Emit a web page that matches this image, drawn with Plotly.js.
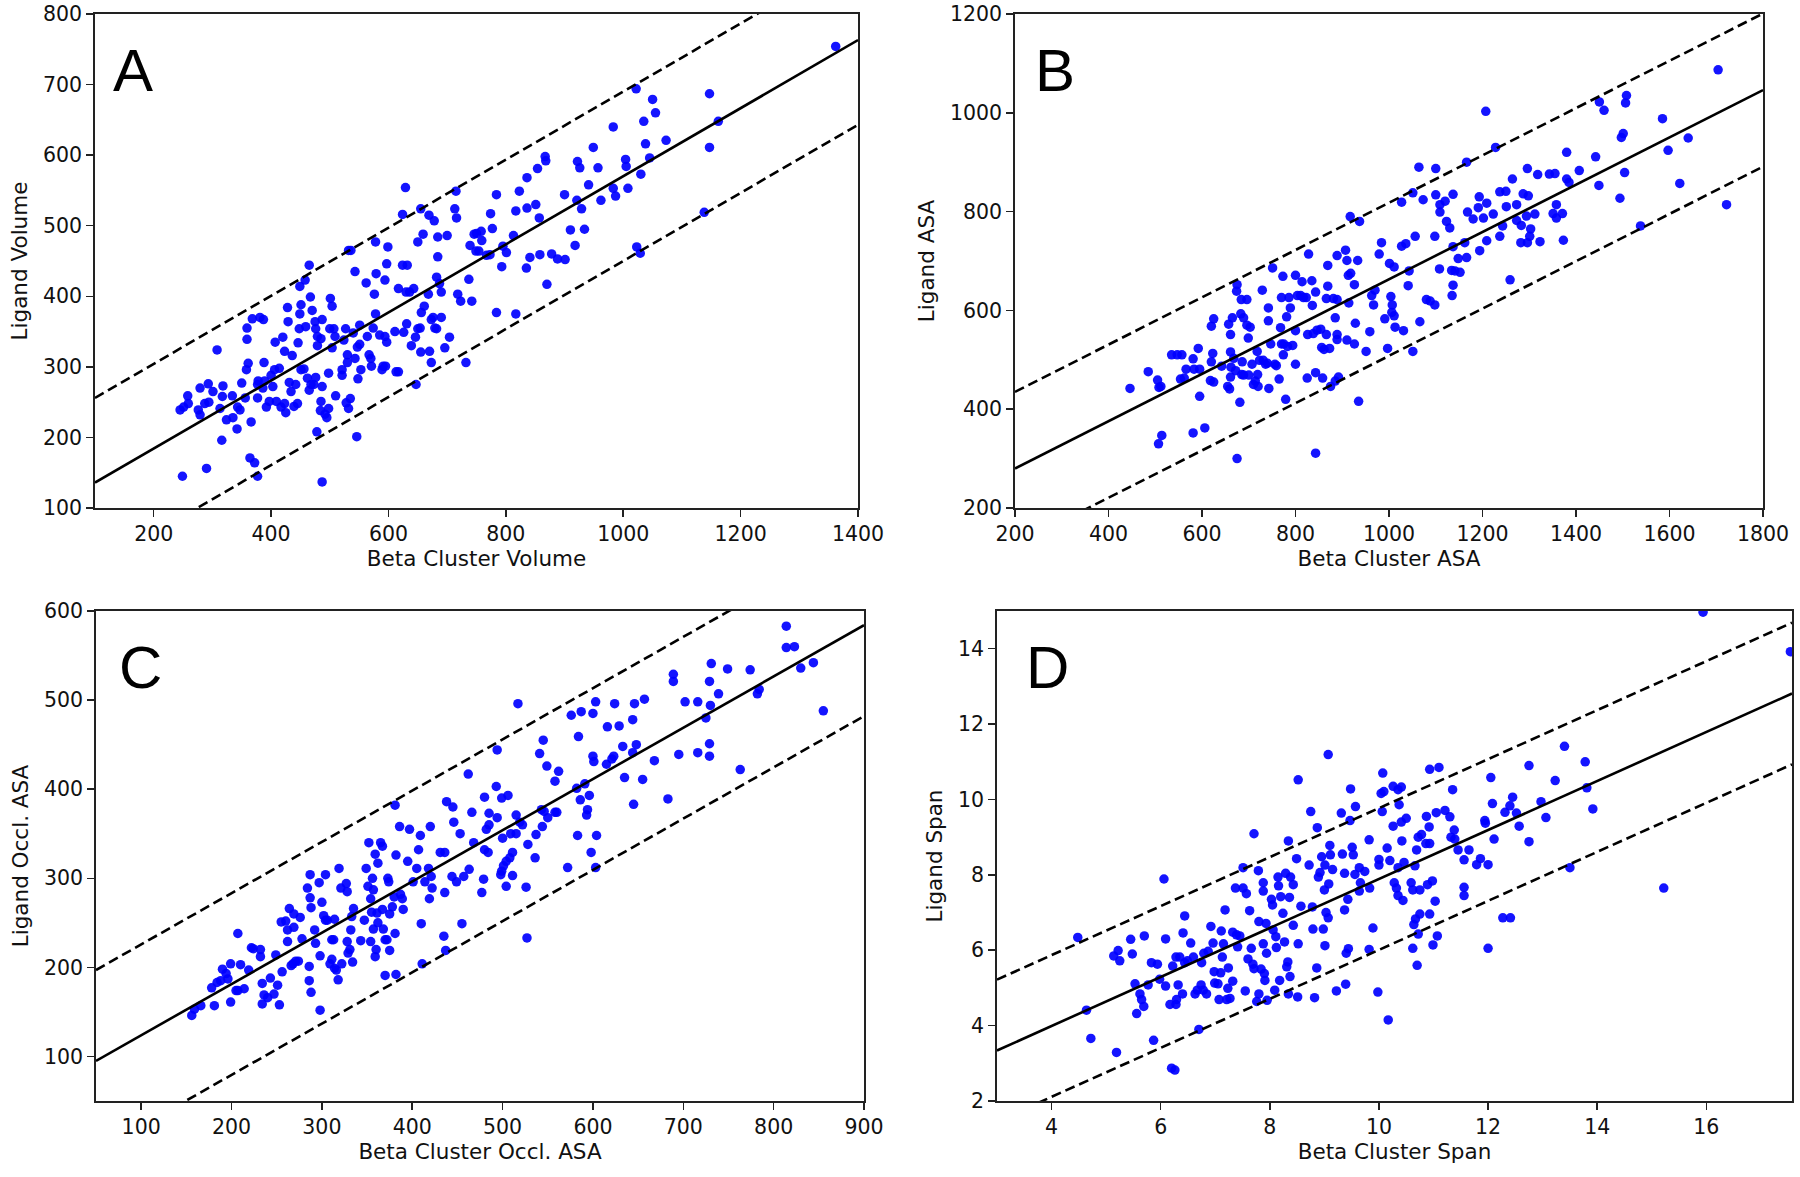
<!DOCTYPE html>
<html>
<head>
<meta charset="utf-8">
<script src="https://cdn.plot.ly/plotly-3.0.1.min.js"></script>
<style>html,body{margin:0;padding:0;background:#fff;}#chart{width:1800px;height:1177px;}</style>
</head>
<body>
<div id="chart"></div>
<script>
// ---------- Panel A : Beta Cluster Volume vs Ligand Volume ----------
const pointsA = [[249,145],[290,156],[487,137],[377,145],[372,164],[364,171],[245,239],[251,243],[258,259],[259,248],[276,239],[279,232],[279,270],[293,276],[301,265],[287,248],[294,250],[308,324],[316,196],[313,241],[317,258],[318,273],[324,225],[334,259],[335,228],[342,212],[343,243],[347,239],[350,277],[356,256],[366,222],[359,355],[359,339],[368,368],[381,370],[387,367],[361,305],[358,296],[377,275],[377,256],[378,280],[389,280],[388,306],[386,270],[392,243],[397,251],[400,288],[403,272],[406,296],[409,251],[414,298],[417,243],[423,248],[425,235],[407,335],[420,342],[423,322],[428,384],[429,364],[431,278],[434,265],[436,316],[439,244],[445,248],[442,275],[446,334],[448,354],[449,375],[451,388],[449,414],[458,423],[465,444],[451,296],[456,297],[459,357],[462,284],[465,267],[468,275],[473,275],[476,285],[467,399],[470,380],[475,364],[476,354],[479,343],[479,330],[485,340],[487,367],[478,208],[485,251],[484,238],[487,272],[492,233],[495,228],[498,241],[498,291],[500,354],[504,386],[501,397],[507,354],[509,343],[504,327],[510,259],[521,288],[521,296],[524,338],[527,354],[530,317],[530,306],[528,249],[532,241],[535,255],[532,465],[536,465],[543,435],[546,201],[540,348],[543,312],[547,328],[548,283],[551,359],[553,296],[551,332],[562,419],[564,343],[567,317],[570,312],[571,301],[578,477],[579,432],[576,403],[578,375],[574,355],[585,345],[589,296],[591,301],[594,343],[595,301],[597,335],[594,423],[597,446],[599,470],[611,350],[613,293],[617,293],[617,411],[624,444],[624,516],[629,554],[632,444],[626,349],[631,361],[630,406],[636,406],[639,330],[643,411],[646,342],[650,354],[654,355],[647,275],[650,477],[656,377],[655,321],[661,386],[659,488],[655,524],[668,403],[673,367],[670,322],[673,306],[676,370],[679,355],[682,354],[669,515],[678,507],[684,456],[684,484],[682,427],[687,418],[690,406],[690,370],[696,327],[704,342],[700,486],[713,524],[715,549],[716,511],[718,403],[723,393],[732,306],[737,424],[739,472],[746,488],[749,464],[750,489],[758,492],[759,479],[754,464],[767,458],[773,459],[774,517],[777,496],[784,544],[793,442],[795,471],[801,462],[813,486],[817,521],[823,549],[835,440],[836,525],[836,568],[841,455],[851,530],[854,581],[857,511],[858,459],[867,598],[868,592],[870,417],[878,460],[888,453],[900,544],[901,452],[910,494],[918,472],[921,536],[922,591],[926,582],[929,524],[934,495],[941,558],[949,611],[957,582],[962,536],[983,640],[983,553],[987,542],[1004,594],[1005,584],[1008,553],[1022,694],[1023,470],[1029,461],[1030,573],[1035,648],[1038,616],[1045,596],[1050,679],[1055,660],[1073,621],[1138,519],[1147,687],[1147,611],[1162,648],[1362,754],[784,377],[817,375],[742,393]];
const fitA_x = [100, 1400];
const fitA_mid = [136, 763];
const fitA_up = [256, 883];
const fitA_lo = [16, 643];

// ---------- Panel B : Beta Cluster ASA vs Ligand ASA ----------
const pointsB = [[446,442],[485,476],[505,459],[508,444],[512,446],[507,330],[514,347],[535,510],[547,510],[557,510],[554,461],[562,463],[566,481],[581,502],[583,481],[592,523],[595,481],[581,352],[606,362],[595,426],[618,458],[625,455],[620,496],[623,513],[620,568],[625,583],[642,487],[655,446],[659,441],[661,465],[661,516],[657,572],[661,551],[662,485],[665,585],[668,503],[672,478],[675,652],[674,639],[681,414],[685,470],[683,593],[684,622],[689,585],[696,622],[686,496],[689,469],[696,570],[700,469],[699,544],[703,566],[675,300],[707,491],[710,450],[714,457],[718,517],[720,446],[719,470],[723,499],[729,641],[731,499],[736,491],[740,493],[742,579],[742,605],[747,532],[743,442],[751,686],[756,491],[759,488],[765,461],[768,565],[770,626],[773,669],[770,532],[774,510],[775,532],[779,420],[781,587],[783,527],[786,626],[789,605],[794,529],[800,491],[800,559],[800,671],[804,630],[811,630],[814,658],[817,626],[823,626],[826,551],[828,714],[825,463],[835,660],[836,610],[838,553],[843,474],[843,637],[843,311],[846,560],[854,562],[856,525],[858,463],[861,521],[866,551],[866,624],[869,649],[869,691],[873,523],[875,446],[881,624],[885,457],[885,585],[889,711],[889,541],[889,551],[892,465],[889,622],[907,722],[910,540],[910,701],[913,671],[914,615],[917,790],[918,675],[926,652],[928,574],[926,532],[935,416],[937,780],[933,701],[951,517],[959,557],[967,611],[963,630],[970,641],[979,714],[984,737],[1001,695],[1011,688],[1004,628],[1007,611],[1006,596],[1011,589],[1013,566],[991,583],[997,523],[1031,559],[1051,517],[1066,577],[1041,650],[1043,680],[1027,730],[1036,735],[1056,750],[1073,824],[1051,838],[1027,819],[1064,890],[1100,887],[1100,834],[1109,799],[1109,814],[1120,821],[1137,835],[1123,780],[1130,767],[1098,750],[1108,684],[1080,622],[1098,611],[1088,619],[1134,681],[1137,651],[1135,630],[1141,680],[1152,677],[1148,705],[1166,707],[1162,737],[1137,729],[1166,900],[1168,799],[1180,785],[1193,830],[1191,808],[1202,787],[1209,817],[1223,795],[1207,1003],[1209,741],[1194,721],[1228,930],[1237,750],[1243,771],[1251,810],[1237,840],[1250,841],[1264,866],[1259,662],[1273,814],[1273,782],[1283,772],[1287,836],[1298,832],[1296,887],[1294,791],[1303,765],[1301,750],[1282,737],[1296,737],[1312,795],[1318,875],[1323,739],[1343,876],[1355,877],[1351,796],[1358,814],[1358,787],[1371,796],[1373,742],[1380,920],[1380,866],[1385,859],[1407,883],[1442,911],[1449,853],[1450,1022],[1460,1005],[1494,827],[1497,950],[1501,958],[1506,1020],[1508,1035],[1504,879],[1538,771],[1585,988],[1597,924],[1622,857],[1640,949],[1704,1087],[1722,814]];
const fitB_x = [200, 1800];
const fitB_mid = [280, 1046];
const fitB_up = [435, 1201];
const fitB_lo = [125, 891];

// ---------- Panel C : Beta Cluster Occl. ASA vs Ligand Occl. ASA ----------
const pointsC = [[156,146],[159,153],[166,157],[181,157],[178,177],[184,183],[188,185],[190,198],[194,193],[196,187],[199,204],[199,161],[205,174],[207,174],[207,238],[210,203],[214,176],[219,197],[222,222],[224,221],[232,220],[232,212],[234,182],[234,159],[236,169],[240,166],[243,188],[247,170],[249,214],[251,180],[253,158],[255,251],[256,195],[260,252],[262,229],[262,242],[264,266],[266,202],[268,204],[269,245],[269,260],[271,207],[274,207],[276,256],[278,232],[284,289],[287,304],[287,278],[288,267],[286,201],[286,185],[288,172],[292,242],[293,227],[297,295],[298,152],[298,213],[300,273],[302,258],[304,304],[304,253],[306,253],[309,204],[311,209],[311,231],[313,231],[314,254],[314,199],[316,197],[318,186],[319,311],[321,289],[322,204],[327,294],[328,285],[328,229],[329,216],[331,220],[332,242],[334,206],[335,266],[333,257],[343,230],[347,253],[349,311],[351,291],[352,340],[354,277],[354,229],[355,262],[356,300],[357,287],[357,243],[359,327],[359,212],[360,220],[361,261],[362,250],[362,317],[365,340],[367,336],[367,265],[368,243],[370,191],[370,231],[372,231],[373,300],[374,296],[375,260],[375,219],[378,268],[380,279],[381,382],[382,326],[382,192],[381,238],[386,358],[387,282],[389,277],[390,265],[395,319],[397,355],[401,296],[405,311],[407,332],[409,348],[410,249],[411,204],[414,296],[418,311],[420,358],[419,277],[422,289],[421,302],[435,235],[436,284],[437,219],[438,386],[445,380],[446,363],[453,350],[455,249],[444,302],[449,296],[457,302],[462,417],[463,310],[466,374],[468,340],[431,329],[436,329],[477,284],[479,299],[480,332],[484,329],[482,355],[485,360],[480,391],[485,373],[494,368],[493,403],[499,390],[506,393],[494,444],[500,345],[499,308],[498,304],[501,314],[504,291],[504,319],[508,323],[511,303],[511,329],[509,350],[515,350],[515,371],[519,363],[522,360],[517,496],[526,290],[528,338],[527,233],[536,323],[537,349],[544,358],[545,455],[541,440],[549,426],[543,377],[546,375],[550,368],[558,374],[560,374],[558,409],[562,420],[572,312],[576,483],[584,459],[582,401],[586,388],[583,348],[587,487],[591,406],[596,393],[594,377],[593,371],[600,485],[603,498],[600,437],[601,431],[598,329],[603,312],[604,348],[615,428],[616,470],[621,434],[623,437],[624,496],[629,471],[633,448],[635,413],[644,478],[644,441],[645,383],[648,450],[646,496],[655,411],[657,501],[668,432],[683,389],[689,529],[689,521],[695,439],[702,498],[716,498],[716,441],[725,480],[729,451],[729,437],[729,521],[730,494],[731,541],[739,507],[749,535],[763,422],[774,534],[782,507],[784,512],[814,583],[814,559],[823,560],[830,536],[844,542],[855,488]];
const fitC_x = [50, 900];
const fitC_mid = [95, 584];
const fitC_up = [197, 686];
const fitC_lo = [-7, 482];

// ---------- Panel D : Beta Cluster Span vs Ligand Span ----------
const pointsD = [[4.48,6.34],[4.64,4.41],[4.72,3.66],[5.19,3.29],[5.14,5.85],[5.22,5.99],[5.25,5.72],[5.45,6.29],[5.48,5.90],[5.53,5.11],[5.56,4.32],[5.62,4.84],[5.65,4.69],[5.69,4.51],[5.70,6.38],[5.77,5.08],[5.83,5.67],[5.87,3.61],[5.94,5.63],[5.98,5.23],[6.06,7.89],[6.09,6.30],[6.09,5.05],[6.17,4.56],[6.20,2.87],[6.22,5.58],[6.26,2.82],[6.28,4.56],[6.28,5.82],[6.29,4.69],[6.32,5.08],[6.35,5.82],[6.40,4.84],[6.41,6.46],[6.44,6.91],[6.44,5.67],[6.49,5.72],[6.55,6.19],[6.60,5.82],[6.63,4.84],[6.67,4.94],[6.70,3.90],[6.74,5.08],[6.75,5.67],[6.78,4.94],[6.79,5.92],[6.84,4.84],[6.87,5.97],[6.92,6.63],[6.96,6.19],[6.98,5.43],[6.99,5.13],[7.05,5.11],[7.07,4.69],[7.10,5.40],[7.13,5.82],[7.11,6.51],[7.15,6.17],[7.18,7.07],[7.21,4.69],[7.23,4.99],[7.24,5.53],[7.27,4.72],[7.32,5.18],[7.32,6.48],[7.39,6.41],[7.41,6.09],[7.45,6.38],[7.37,7.65],[7.51,7.65],[7.57,7.50],[7.51,8.19],[7.55,4.92],[7.60,5.77],[7.63,7.05],[7.66,6.05],[7.69,5.63],[7.71,9.09],[7.71,5.51],[7.76,4.64],[7.79,8.11],[7.80,6.76],[7.80,4.84],[7.84,5.50],[7.88,7.79],[7.88,7.57],[7.88,6.17],[7.90,5.38],[7.91,5.20],[7.93,6.71],[7.94,5.92],[7.95,4.67],[8.03,7.35],[8.05,7.20],[8.06,6.54],[8.09,4.94],[8.11,6.36],[8.12,6.07],[8.15,7.94],[8.16,7.71],[8.18,5.20],[8.20,7.42],[8.24,6.98],[8.27,6.22],[8.29,8.04],[8.31,5.56],[8.33,5.69],[8.34,8.90],[8.34,4.84],[8.36,7.40],[8.37,5.30],[8.38,7.94],[8.43,6.66],[8.43,7.74],[8.49,8.43],[8.51,4.76],[8.52,6.17],[8.52,10.52],[8.57,7.17],[8.72,8.26],[8.75,9.68],[8.78,7.15],[8.79,6.56],[8.82,4.74],[8.87,9.25],[8.86,5.53],[8.89,7.94],[8.92,8.06],[8.95,8.48],[8.98,6.56],[9.00,7.60],[9.01,8.26],[9.01,6.12],[9.03,7.00],[9.07,11.19],[9.07,6.86],[9.08,7.76],[9.10,8.78],[9.11,8.53],[9.15,8.14],[9.22,4.92],[9.31,9.64],[9.33,8.55],[9.37,8.04],[9.37,7.07],[9.39,5.10],[9.40,5.92],[9.43,7.35],[9.44,6.04],[9.47,9.44],[9.48,10.28],[9.51,8.73],[9.53,8.53],[9.56,8.01],[9.57,9.81],[9.64,8.19],[9.66,7.79],[9.74,8.09],[9.64,7.57],[9.83,7.65],[9.82,8.93],[9.82,6.02],[9.89,6.59],[9.98,4.89],[10.17,4.15],[10.0,8.41],[10.0,8.26],[10.07,10.70],[10.04,10.16],[10.09,10.21],[10.06,9.68],[10.15,8.71],[10.20,8.38],[10.26,9.29],[10.26,10.35],[10.35,10.26],[10.41,10.33],[10.37,9.86],[10.41,9.40],[10.50,9.50],[10.35,8.19],[10.42,8.90],[10.46,8.33],[10.28,7.79],[10.32,7.65],[10.35,7.45],[10.44,7.32],[10.59,7.79],[10.62,7.60],[10.75,7.60],[10.66,8.24],[10.69,8.66],[10.72,9.00],[10.78,9.07],[10.87,9.55],[10.92,9.27],[10.86,8.83],[10.93,8.83],[10.93,10.80],[11.10,10.85],[11.05,9.65],[11.21,9.71],[10.89,7.74],[10.98,7.84],[11.03,7.30],[10.93,6.96],[10.75,6.96],[10.67,6.83],[10.64,6.68],[10.72,6.43],[10.62,6.05],[10.99,6.14],[11.07,6.38],[10.70,5.60],[11.30,9.54],[11.35,10.26],[11.38,9.19],[11.32,9.00],[11.39,8.95],[11.45,8.66],[11.56,8.40],[11.65,8.66],[11.56,7.67],[11.56,7.45],[11.79,8.27],[11.86,8.43],[12.0,8.27],[11.94,9.44],[11.95,9.37],[12.05,10.58],[12.08,9.89],[12.11,8.95],[12.0,6.05],[12.27,6.86],[12.41,6.86],[12.31,9.66],[12.40,9.83],[12.45,10.06],[12.52,9.64],[12.57,9.29],[12.75,10.90],[12.75,8.88],[12.97,9.94],[13.06,9.52],[13.23,10.50],[13.40,11.41],[13.50,8.19],[13.78,11.0],[13.81,10.31],[13.92,9.75],[15.22,7.65],[15.94,14.97],[17.54,13.92]];
const fitD_x = [3, 17.57];
const fitD_mid = [3.34, 12.81];
const fitD_up = [5.22, 14.69];
const fitD_lo = [1.46, 10.93];

// ---------- Labels / ticks ----------
const panelLetters = ['A', 'B', 'C', 'D'];
const xTitles = ['Beta Cluster Volume', 'Beta Cluster ASA', 'Beta Cluster Occl. ASA', 'Beta Cluster Span'];
const yTitles = ['Ligand Volume', 'Ligand ASA', 'Ligand Occl. ASA', 'Ligand Span'];
const xRanges = [[100, 1400], [200, 1800], [50, 900], [3, 17.57]];
const yRanges = [[100, 800], [200, 1200], [50, 600], [2, 15]];
const xTickVals = [[200,400,600,800,1000,1200,1400],[200,400,600,800,1000,1200,1400,1600,1800],[100,200,300,400,500,600,700,800,900],[4,6,8,10,12,14,16]];
const yTickVals = [[100,200,300,400,500,600,700,800],[200,400,600,800,1000,1200],[100,200,300,400,500,600],[2,4,6,8,10,12,14]];

// ---------- Build ----------
const W = 1800, H = 1177;
// plot area boxes in pixels [left, right, top, bottom]
const boxes = [[95, 858, 14, 508], [1015, 1763, 14, 508], [96, 864, 611, 1101], [997, 1792, 611, 1101]];
const letterPos = [[111, 70], [1033, 70], [117, 667], [1024, 667]];

const sets = [
  [pointsA, fitA_x, fitA_mid, fitA_up, fitA_lo],
  [pointsB, fitB_x, fitB_mid, fitB_up, fitB_lo],
  [pointsC, fitC_x, fitC_mid, fitC_up, fitC_lo],
  [pointsD, fitD_x, fitD_mid, fitD_up, fitD_lo]
];

const traces = [];
const layout = {
  width: W, height: H,
  margin: {l: 0, r: 0, t: 0, b: 0},
  paper_bgcolor: '#fff', plot_bgcolor: '#fff',
  showlegend: false,
  font: {family: 'DejaVu Sans', color: '#000'},
  annotations: []
};

sets.forEach((s, i) => {
  const n = i === 0 ? '' : String(i + 1);
  const xa = 'x' + n, ya = 'y' + n;
  const [pts, fx, fm, fu, fl] = s;
  traces.push({
    type: 'scatter', mode: 'markers', xaxis: xa, yaxis: ya,
    x: pts.map(p => p[0]), y: pts.map(p => p[1]),
    marker: {color: 'rgba(0,0,255,0.92)', size: 9.5, line: {width: 0}},
    hoverinfo: 'skip'
  });
  traces.push({type: 'scatter', mode: 'lines', xaxis: xa, yaxis: ya, x: fx, y: fm,
    line: {color: '#000', width: 2.6}, hoverinfo: 'skip'});
  traces.push({type: 'scatter', mode: 'lines', xaxis: xa, yaxis: ya, x: fx, y: fu,
    line: {color: '#000', width: 2.6, dash: '10px,5px'}, hoverinfo: 'skip'});
  traces.push({type: 'scatter', mode: 'lines', xaxis: xa, yaxis: ya, x: fx, y: fl,
    line: {color: '#000', width: 2.6, dash: '10px,5px'}, hoverinfo: 'skip'});

  const b = boxes[i];
  const common = {
    showgrid: false, zeroline: false, showline: true, mirror: true,
    linecolor: '#222', linewidth: 1.8,
    ticks: 'outside', ticklen: 7, tickwidth: 1.5, tickcolor: '#222',
    tickfont: {family: 'DejaVu Sans', size: 20.5, color: '#111'},
    fixedrange: true
  };
  layout['xaxis' + n] = Object.assign({}, common, {
    domain: [b[0] / W, b[1] / W], anchor: ya,
    range: xRanges[i], tickmode: 'array', tickvals: xTickVals[i],
    title: {text: xTitles[i], font: {family: 'DejaVu Sans', size: 21.5, color: '#111'}, standoff: 5}
  });
  layout['yaxis' + n] = Object.assign({}, common, {
    domain: [1 - b[3] / H, 1 - b[2] / H], anchor: xa,
    range: yRanges[i], tickmode: 'array', tickvals: yTickVals[i],
    title: {text: yTitles[i], font: {family: 'DejaVu Sans', size: 21.5, color: '#111'}, standoff: 9}
  });
  layout.annotations.push({
    text: panelLetters[i], showarrow: false, xref: 'paper', yref: 'paper',
    x: letterPos[i][0] / W, y: 1 - letterPos[i][1] / H, xanchor: 'left', yanchor: 'middle',
    font: {family: 'Liberation Sans, Arial', size: 60, color: '#000'}
  });
});

Plotly.newPlot('chart', traces, layout, {staticPlot: true, displayModeBar: false});
</script>
</body>
</html>
